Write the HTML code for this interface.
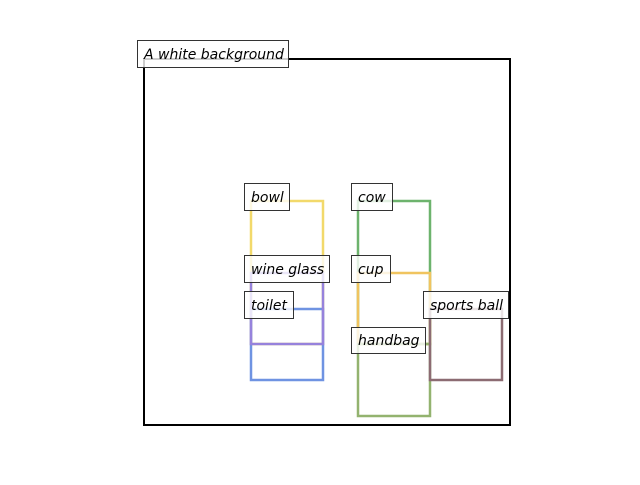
<!DOCTYPE html>
<html><head><style>
body{margin:0;background:#fff;width:640px;height:480px;overflow:hidden}
svg text{font-family:"DejaVu Sans","Liberation Sans",sans-serif;font-style:italic;font-size:14px;fill:#000}
</style></head><body>
<svg width="640" height="480" xmlns="http://www.w3.org/2000/svg">
<rect x="144" y="59" width="366" height="366" fill="none" stroke="#000" stroke-width="2"/>
<g fill="none" stroke-width="2.5">
<rect x="251" y="201" width="72" height="143" stroke="#f2d96b"/>
<rect x="358" y="201" width="72" height="143" stroke="#6db36d"/>
<rect x="251" y="309" width="72" height="71" stroke="#6f93e2"/>
<rect x="251" y="273" width="72" height="71" stroke="#9682dc"/>
<rect x="358" y="273" width="72" height="71" stroke="#f0c45f"/>
<rect x="358" y="344" width="72" height="72" stroke="#93b36f"/>
<rect x="430" y="309" width="72" height="71" stroke="#8c6b72"/>
</g>
<g fill="#fff" fill-opacity="0.8" stroke="#333" stroke-width="1">
<rect x="137.5" y="40.5" width="151" height="27"/>
<rect x="244.5" y="183.5" width="45" height="27"/>
<rect x="351.5" y="183.5" width="41" height="27"/>
<rect x="244.5" y="255.5" width="85" height="27"/>
<rect x="351.5" y="255.5" width="39" height="27"/>
<rect x="244.5" y="291.5" width="49" height="27"/>
<rect x="423.5" y="291.5" width="85" height="27"/>
<rect x="351.5" y="327.5" width="74" height="26"/>
</g>
<text x="144" y="59">A white background</text>
<text x="251" y="202">bowl</text>
<text x="358" y="202">cow</text>
<text x="251" y="274">wine glass</text>
<text x="358" y="274">cup</text>
<text x="251" y="310">toilet</text>
<text x="430" y="310">sports ball</text>
<text x="358" y="345">handbag</text>
</svg>
</body></html>
